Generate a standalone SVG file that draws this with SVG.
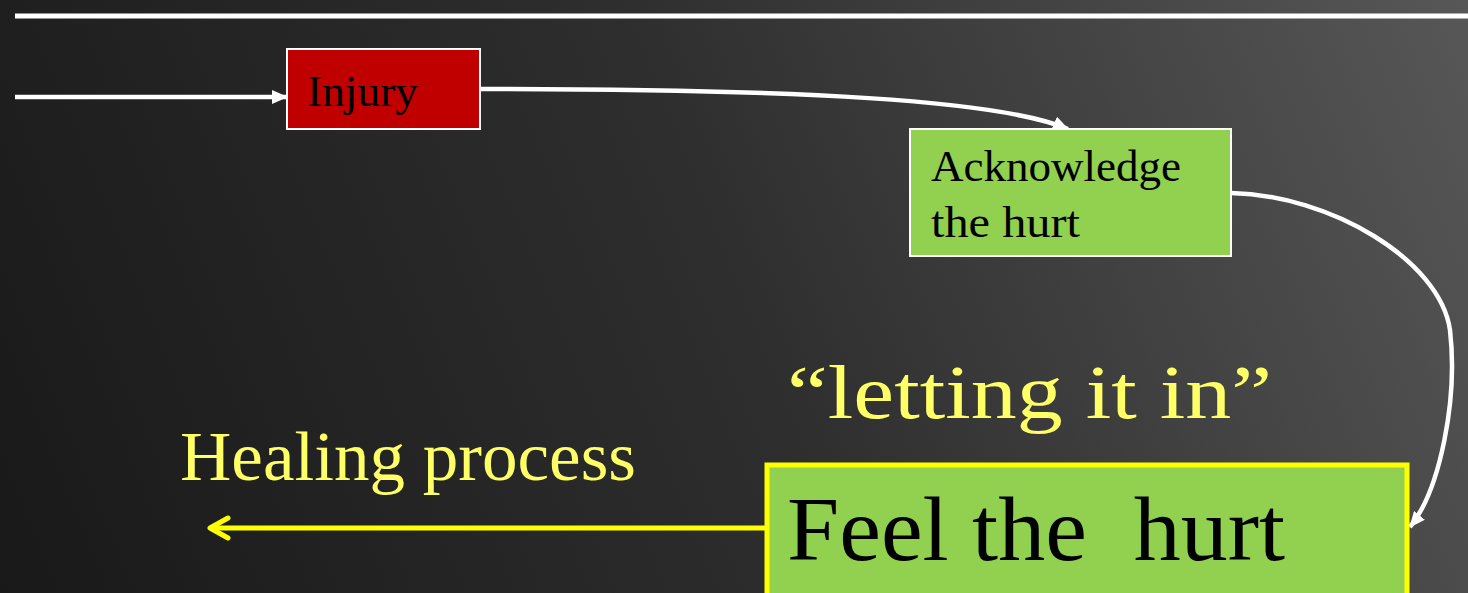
<svg xmlns="http://www.w3.org/2000/svg" width="1468" height="593" viewBox="0 0 1468 593">
<defs>
<linearGradient id="bg" x1="0" y1="593" x2="1468" y2="0" gradientUnits="userSpaceOnUse">
<stop offset="0" stop-color="#191919"/>
<stop offset="0.5" stop-color="#2e2e2e"/>
<stop offset="1" stop-color="#575757"/>
</linearGradient>
<marker id="wh" markerUnits="userSpaceOnUse" markerWidth="16" markerHeight="14" refX="15" refY="7" orient="auto">
<path d="M0,0 L16,7 L0,14 Z" fill="#fff"/>
</marker>
<marker id="yh" markerUnits="userSpaceOnUse" markerWidth="24" markerHeight="26" refX="21" refY="13" orient="auto">
<path d="M3,3 L21,13 L3,23" fill="none" stroke="#ffff00" stroke-width="5" stroke-linecap="round" stroke-linejoin="round"/>
</marker>
</defs>
<style>
.t{font-family:"Liberation Serif","Times New Roman",serif;}
.wline{fill:none;stroke:#fff;stroke-width:4.5;}
.y{fill:#ffff66;}
</style>
<rect width="1468" height="593" fill="url(#bg)"/>
<line x1="15" y1="16" x2="1468" y2="16" stroke="#fff" stroke-width="5"/>
<g id="connectors">
<line class="wline" x1="15" y1="97" x2="287" y2="97" marker-end="url(#wh)"/>
<path class="wline" d="M480,89 C800,89 1000,100 1068,129" marker-end="url(#wh)"/>
<path class="wline" d="M1231,193 C1330,195 1440,260 1450,330 C1458,400 1440,490 1410,527" marker-end="url(#wh)"/>
<line x1="766" y1="528" x2="210" y2="528" stroke="#ffff00" stroke-width="5" marker-end="url(#yh)"/>
</g>
<g id="injury">
<rect x="287" y="49" width="193" height="80" fill="#c00000" stroke="#fff" stroke-width="2"/>
<text class="t" x="307" y="106" font-size="44" fill="#000" textLength="111" lengthAdjust="spacingAndGlyphs">Injury</text>
</g>
<g id="acknowledge">
<rect x="910" y="129" width="321" height="127" fill="#92d050" stroke="#fff" stroke-width="2"/>
<text class="t" x="931" y="181" font-size="44" fill="#000" textLength="250" lengthAdjust="spacingAndGlyphs">Acknowledge</text>
<text class="t" x="931" y="237" font-size="44" fill="#000" textLength="149" lengthAdjust="spacingAndGlyphs">the hurt</text>
</g>
<g id="feel">
<rect x="767" y="465" width="640" height="135" fill="#92d050" stroke="#ffff00" stroke-width="5"/>
<text class="t" x="787" y="560" font-size="92" fill="#000" xml:space="preserve" textLength="498" lengthAdjust="spacingAndGlyphs">Feel the  hurt</text>
</g>
<g id="labels">
<text class="t y" x="787" y="418" font-size="76" textLength="485" lengthAdjust="spacingAndGlyphs">“letting it in”</text>
<text class="t y" x="180" y="480" font-size="70" textLength="456" lengthAdjust="spacingAndGlyphs">Healing process</text>
</g>
</svg>
